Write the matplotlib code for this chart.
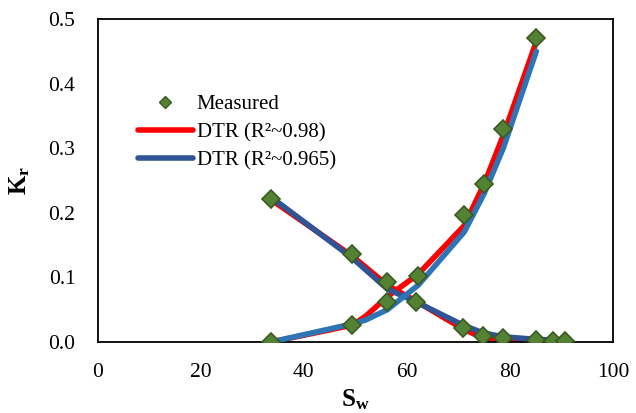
import matplotlib.pyplot as plt
from matplotlib.lines import Line2D

# measured relative permeability data
sw_o = [33.7, 49.4, 56.2, 61.8, 70.9, 74.8, 78.7, 85.1, 88.4, 90.7]
kro_meas = [0.222, 0.136, 0.093, 0.062, 0.022, 0.009, 0.006, 0.003, 0.002, 0.002]
sw_w = [33.7, 49.4, 56.2, 62.2, 71.1, 75.0, 78.7, 85.1]
krw_meas = [0.0, 0.026, 0.062, 0.102, 0.196, 0.245, 0.330, 0.471]

# DTR fits (R2~0.98 red, R2~0.965 blue)
sw_fit_o = [33.7, 49.4, 56.2, 61.8, 70.9, 74.8, 78.7, 85.1, 88.4]
kro_red = [0.220, 0.133, 0.088, 0.063, 0.020, 0.006, 0.002, 0.001, 0.001]
kro_blue = [0.224, 0.130, 0.082, 0.062, 0.026, 0.014, 0.008, 0.004, 0.003]
sw_fit_w = [33.7, 49.4, 52.0, 56.2, 62.2, 71.1, 75.0, 78.7, 85.1]
krw_red = [0.000, 0.026, 0.040, 0.070, 0.105, 0.180, 0.245, 0.320, 0.465]
krw_blue = [0.000, 0.028, 0.034, 0.050, 0.088, 0.170, 0.230, 0.300, 0.450]

plt.rcParams['font.family'] = ['Liberation Serif', 'DejaVu Serif']
plt.rcParams['mathtext.fontset'] = 'custom'
plt.rcParams['mathtext.rm'] = 'Liberation Serif'
plt.rcParams['mathtext.bf'] = 'Liberation Serif:bold'

fig = plt.figure(figsize=(6.36, 4.13), dpi=100)
ax = fig.add_axes([0.1535, 0.172, 0.8105, 0.782])

red = '#FF0000'
dark_blue = '#2F5597'
light_blue = '#2E75B6'

ax.plot(sw_fit_o, kro_red, color=red, lw=4, solid_capstyle='round', solid_joinstyle='round', zorder=2)
ax.plot(sw_fit_w, krw_red, color=red, lw=4, solid_capstyle='round', solid_joinstyle='round', zorder=2)
ax.plot(sw_fit_o, kro_blue, color=dark_blue, lw=4, solid_capstyle='round', solid_joinstyle='round', zorder=3)
ax.plot(sw_fit_w, krw_blue, color=light_blue, lw=4, solid_capstyle='round', solid_joinstyle='round', zorder=3)

mk = dict(marker='D', ls='none', ms=9, mfc='#548235', mec='#3A5A22', mew=1.2, zorder=4)
ax.plot(sw_o, kro_meas, **mk)
ax.plot(sw_w, krw_meas, **mk)

ax.set_xlim(0, 100)
ax.set_ylim(0, 0.5)
ax.set_xticks([0, 20, 40, 60, 80, 100])
ax.set_yticks([0.0, 0.1, 0.2, 0.3, 0.4, 0.5])
ax.set_yticklabels(['0.0', '0.1', '0.2', '0.3', '0.4', '0.5'])
ax.tick_params(length=0, labelsize=15.5)
ax.tick_params(axis='x', pad=15)
ax.tick_params(axis='y', pad=16)
for s in ax.spines.values():
    s.set_linewidth(1.3)
    s.set_color('black')

ax.set_xlabel(r'$\mathbf{S_w}$', fontsize=18, labelpad=4)
ax.set_ylabel(r'$\mathbf{K_r}$', fontsize=18, labelpad=12)

handles = [
    Line2D([], [], marker='D', ls='none', ms=6.5, mfc='#548235', mec='#3A5A22'),
    Line2D([], [], color=red, lw=4, solid_capstyle='round'),
    Line2D([], [], color=dark_blue, lw=4, solid_capstyle='round'),
]
labels = ['Measured', 'DTR (R²~0.98)', 'DTR (R²~0.965)']
ax.legend(handles, labels, loc='upper left', bbox_to_anchor=(0.079, 0.765), frameon=False,
          borderpad=0, borderaxespad=0, fontsize=15, handlelength=2.6,
          handletextpad=0.2, labelspacing=0.4)

fig.savefig('out.png', dpi=100)
